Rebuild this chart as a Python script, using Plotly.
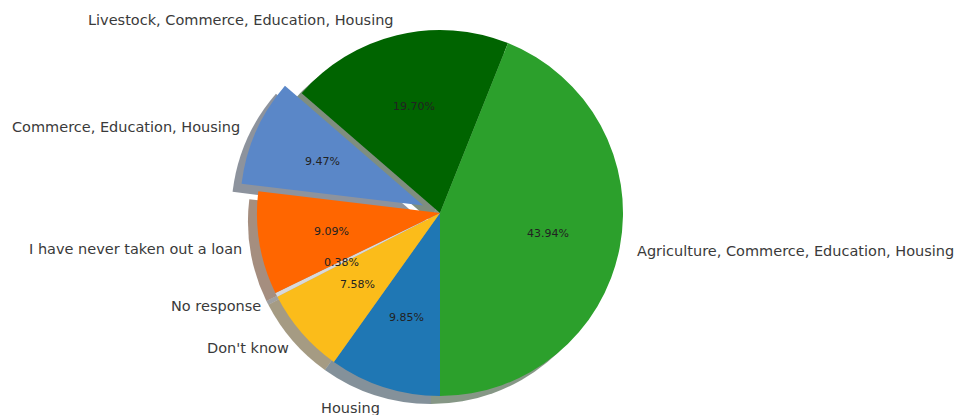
import math
import plotly.graph_objects as go

labels = ["Agriculture, Commerce, Education, Housing",
          "Livestock, Commerce, Education, Housing",
          "Commerce, Education, Housing",
          "I have never taken out a loan",
          "No response",
          "Don't know",
          "Housing"]
counts = [116, 52, 25, 24, 1, 20, 26]
explode = [0, 0, 0.1, 0, 0, 0, 0]
colors = ["#2ca02c", "#006400", "#5a87c8", "#ff6600", "#d9d9d9", "#fbbc1a", "#1f77b4"]

W, H = 956, 415
CX, CY, R = 440, 213, 183          # pie centre / radius in pixels
SHX, SHY = -9, 8                   # shadow offset in pixels
START = -90                        # start angle (deg, counter-clockwise, matplotlib style)
CLEAR = "rgba(0,0,0,0)"


def hex_to_rgb(h):
    h = h.lstrip("#")
    return tuple(int(h[i:i + 2], 16) for i in (0, 2, 4))


shadow_colors = []
for c in colors:
    r, g, b = hex_to_rgb(c)
    shadow_colors.append(f"rgba({int(r*0.3)},{int(g*0.3)},{int(b*0.3)},0.5)")


def domain(cx, cy):
    return dict(x=[(cx - R) / W, (cx + R) / W],
                y=[(H - cy - R) / H, (H - cy + R) / H])


total = sum(counts)
mids = []
theta1 = START
for v in counts:
    theta2 = theta1 + 360 * v / total
    mids.append(math.radians((theta1 + theta2) / 2))
    theta1 = theta2

# slices go counter-clockwise from 6 o'clock; plotly: reversed order, clockwise from 6 o'clock
common = dict(values=counts[::-1], labels=labels[::-1], sort=False, direction="clockwise",
              rotation=180, textinfo="none", showlegend=False)


def pie(cols, cx, cy, hover=False):
    kw = dict(hovertemplate="%{label}: %{percent}<extra></extra>") if hover else dict(hoverinfo="skip")
    return go.Pie(**common, domain=domain(cx, cy),
                  marker=dict(colors=cols[::-1], line=dict(width=0)), **kw)


fig = go.Figure()
n = len(counts)
fig.add_trace(pie([CLEAR if explode[j] else shadow_colors[j] for j in range(n)], CX + SHX, CY + SHY))
for i in range(n):
    if explode[i]:
        dx = explode[i] * R * math.cos(mids[i])
        dy = -explode[i] * R * math.sin(mids[i])
        fig.add_trace(pie([shadow_colors[j] if j == i else CLEAR for j in range(n)],
                          CX + dx + SHX, CY + dy + SHY))
fig.add_trace(pie([CLEAR if explode[j] else colors[j] for j in range(n)], CX, CY, hover=True))
for i in range(n):
    if explode[i]:
        dx = explode[i] * R * math.cos(mids[i])
        dy = -explode[i] * R * math.sin(mids[i])
        fig.add_trace(pie([colors[j] if j == i else CLEAR for j in range(n)], CX + dx, CY + dy))

annotations = []
for lab, v, ex, thm in zip(labels, counts, explode, mids):
    ox = CX + ex * R * math.cos(thm)
    oy = CY - ex * R * math.sin(thm)
    lx = ox + 1.1 * R * math.cos(thm)
    ly = oy - 1.1 * R * math.sin(thm)
    right_side = math.cos(thm) > 0
    annotations.append(dict(x=lx / W, y=1 - ly / H, xref="paper", yref="paper",
                            text=lab, showarrow=False,
                            xanchor="left" if right_side else "right",
                            yanchor="middle",
                            xshift=-3 if right_side else 3,
                            yshift=0 if right_side else -3,
                            font=dict(family="DejaVu Sans", size=14.5, color="#3a3a3a")))
    px = ox + 0.6 * R * math.cos(thm)
    py = oy - 0.6 * R * math.sin(thm)
    annotations.append(dict(x=px / W, y=1 - py / H, xref="paper", yref="paper",
                            text=f"{100*v/total:.2f}%", showarrow=False,
                            xanchor="center", yanchor="middle",
                            font=dict(family="DejaVu Sans", size=11, color="#222222")))

fig.update_layout(width=W, height=H, margin=dict(l=0, r=0, t=0, b=0),
                  paper_bgcolor="white", plot_bgcolor="white",
                  annotations=annotations)

fig.write_html("out.html", config={"displayModeBar": False},
               post_script="document.body.style.margin='0';")
